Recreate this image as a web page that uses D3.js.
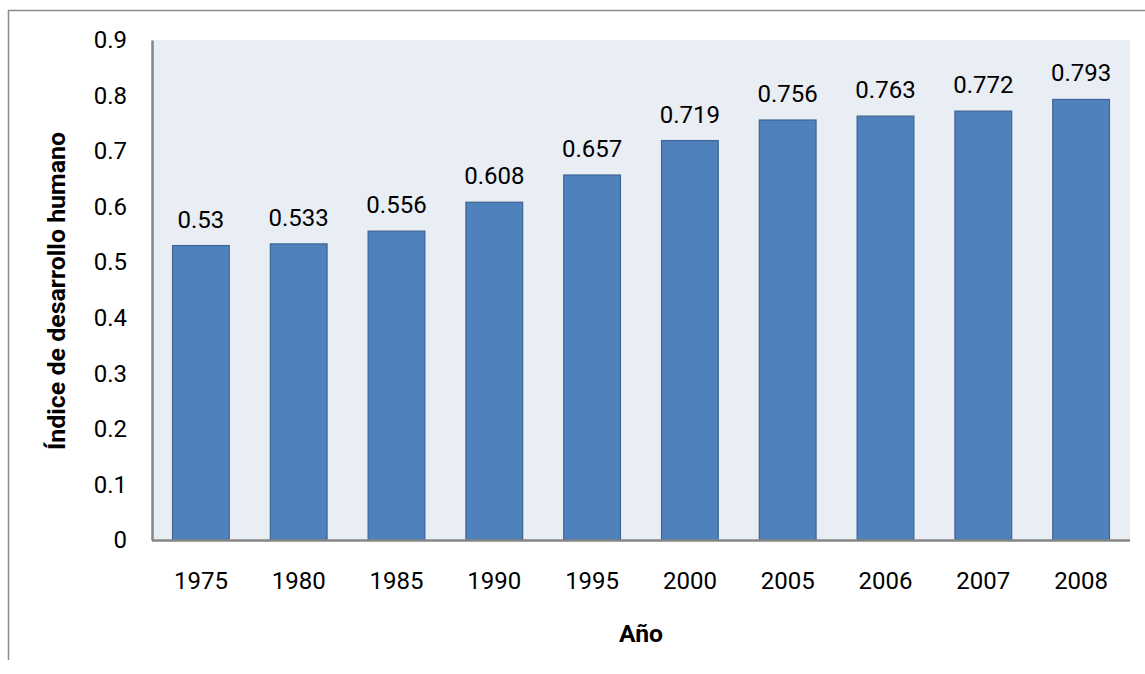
<!DOCTYPE html>
<html>
<head>
<meta charset="utf-8">
<script src="https://cdn.jsdelivr.net/npm/d3@7"></script>
<style>
  html, body { margin: 0; padding: 0; background: #fff; }
  svg { display: block; }
  text { font-family: Roboto, "Open Sans", sans-serif; fill: #000; }
</style>
</head>
<body>
<svg id="chart" width="1145" height="674"></svg>
<script>
// Índice de desarrollo humano por año
const years = ["1975", "1980", "1985", "1990", "1995", "2000", "2005", "2006", "2007", "2008"];
const hdiValues = [0.53, 0.533, 0.556, 0.608, 0.657, 0.719, 0.756, 0.763, 0.772, 0.793];
const yTicks = [0, 0.1, 0.2, 0.3, 0.4, 0.5, 0.6, 0.7, 0.8, 0.9];

const FONT = "Roboto, 'Open Sans', sans-serif";
const LABEL_SIZE = 24;
const svg = d3.select("#chart");

const plot = { left: 152, top: 40, right: 1130, bottom: 540 };

// Outer chart frame (top and left edges visible)
svg.append("path")
  .attr("d", "M8.5,660 L8.5,10.5 L1145,10.5")
  .attr("fill", "none")
  .attr("stroke", "#8c8c8c")
  .attr("stroke-width", 1.5);

const x = d3.scaleBand()
  .domain(years)
  .range([plot.left, plot.right])
  .paddingInner(0.42)
  .paddingOuter(0.21);

const y = d3.scaleLinear()
  .domain([0, 0.9])
  .range([plot.bottom, plot.top]);

// Plot background
svg.append("rect")
  .attr("x", plot.left)
  .attr("y", plot.top)
  .attr("width", plot.right - plot.left)
  .attr("height", plot.bottom - plot.top)
  .attr("fill", "#e9edf4");

// Bars
svg.append("g")
  .selectAll("rect")
  .data(hdiValues)
  .join("rect")
  .attr("x", (d, i) => x(years[i]))
  .attr("y", d => y(d))
  .attr("width", x.bandwidth())
  .attr("height", d => y(0) - y(d))
  .attr("fill", "#4f81bd")
  .attr("stroke", "#3c6494")
  .attr("stroke-width", 1.2);

// Value labels
svg.append("g")
  .selectAll("text")
  .data(hdiValues)
  .join("text")
  .attr("x", (d, i) => x(years[i]) + x.bandwidth() / 2)
  .attr("y", d => y(d) - 18)
  .attr("text-anchor", "middle")
  .attr("font-size", LABEL_SIZE)
  .text(d => String(d));

// Y axis
const yAxis = d3.axisLeft(y)
  .tickValues(yTicks)
  .tickFormat(d => d === 0 ? "0" : d3.format(".1f")(d))
  .tickSize(0)
  .tickPadding(25);

const yg = svg.append("g")
  .attr("transform", `translate(${plot.left},0)`)
  .call(yAxis);
yg.select(".domain").attr("stroke", "#868686").attr("stroke-width", 2.5);
yg.selectAll("text").attr("font-size", LABEL_SIZE).attr("font-family", FONT).attr("fill", "#000");

// X axis
const xAxis = d3.axisBottom(x).tickSize(0).tickPadding(32);
const xg = svg.append("g")
  .attr("transform", `translate(0,${plot.bottom})`)
  .call(xAxis);
xg.select(".domain").attr("stroke", "#868686").attr("stroke-width", 2.5)
  .attr("d", `M${plot.left},0.5H${plot.right}`);
xg.selectAll("text").attr("font-size", LABEL_SIZE).attr("font-family", FONT).attr("fill", "#000");

// Axis titles (condensed bold)
svg.append("text")
  .attr("x", 641)
  .attr("y", 642)
  .attr("text-anchor", "middle")
  .attr("font-size", 24)
  .attr("font-weight", "bold")
  .attr("textLength", 44)
  .attr("lengthAdjust", "spacingAndGlyphs")
  .text("Año");

svg.append("text")
  .attr("transform", "translate(65,291) rotate(-90)")
  .attr("text-anchor", "middle")
  .attr("font-size", 24)
  .attr("font-weight", "bold")
  .attr("textLength", 318)
  .attr("lengthAdjust", "spacingAndGlyphs")
  .text("Índice de desarrollo humano");
</script>
</body>
</html>
